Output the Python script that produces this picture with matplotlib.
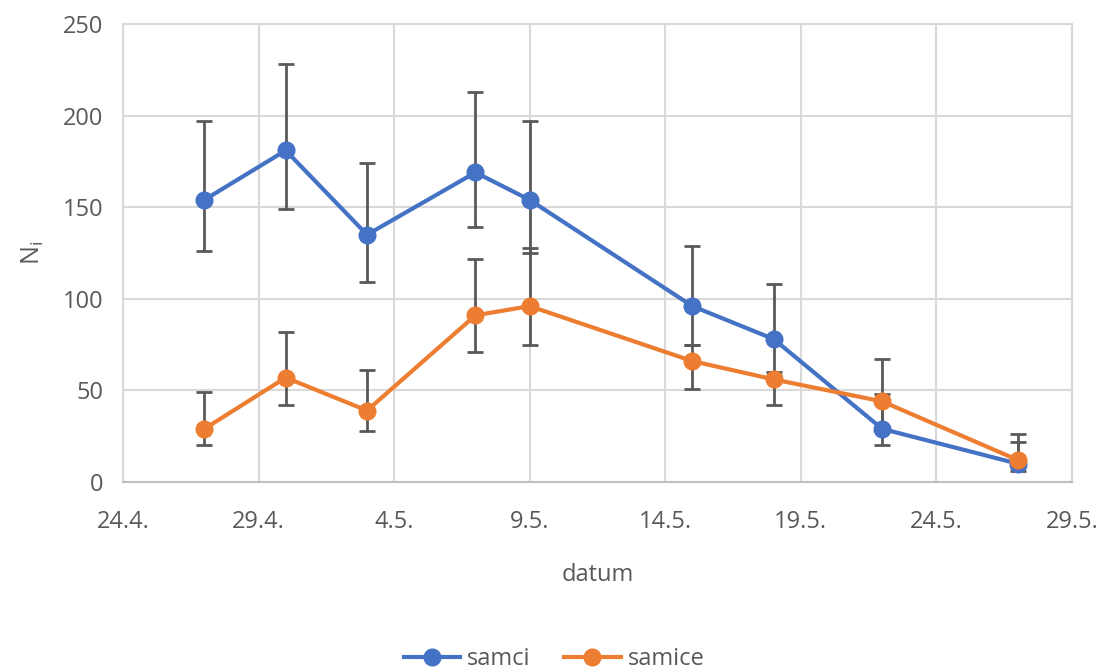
import matplotlib
matplotlib.use('Agg')
import matplotlib.pyplot as plt
import matplotlib.dates as mdates
import numpy as np

# data
dates = ['2019-04-27', '2019-04-30', '2019-05-03', '2019-05-07', '2019-05-09',
         '2019-05-15', '2019-05-18', '2019-05-22', '2019-05-27']
samci = [154, 181, 135, 169, 154, 96, 78, 29, 10]
samci_hi = [197, 228, 174, 213, 197, 129, 108, 48, 22]
samci_lo = [126, 149, 109, 139, 125, 75, 58, 20, 6]
samice = [29, 57, 39, 91, 96, 66, 56, 44, 12]
samice_hi = [49, 82, 61, 122, 128, 75, 60, 67, 26]
samice_lo = [20, 42, 28, 71, 75, 51, 42, 30, 8]

x = mdates.date2num(np.array(dates, dtype='datetime64[D]'))

blue = '#4472C4'
orange = '#ED7D31'
grey = '#595959'

plt.rcParams['font.family'] = ['Open Sans', 'DejaVu Sans']
fig = plt.figure(figsize=(11.08, 6.70), dpi=100)
ax = fig.add_axes([0.111, 0.2806, 0.8565, 0.6835])

for y, hi, lo in [(samci, samci_hi, samci_lo), (samice, samice_hi, samice_lo)]:
  y = np.array(y)
  err = [y - np.array(lo), np.array(hi) - y]
  ax.errorbar(x, y, yerr=err, fmt='none', ecolor=grey, elinewidth=2,
              capsize=6, capthick=2, zorder=2)
for y, c, lab in [(samci, blue, 'samci'), (samice, orange, 'samice')]:
  ax.plot(x, y, color=c, lw=3, marker='o', ms=12, label=lab, zorder=3)

x0 = mdates.date2num(np.datetime64('2019-04-24'))
ticks = [x0 + 5 * i for i in range(8)]
ax.set_xlim(ticks[0], ticks[-1])
ax.set_xticks(ticks)
ax.xaxis.set_major_formatter(mdates.DateFormatter('%-d.%-m.'))
ax.set_ylim(0, 250)
ax.set_yticks(range(0, 251, 50))

ax.grid(True, color='#d9d9d9', lw=1.5, zorder=0)
ax.set_axisbelow(True)
for s in ['top', 'right', 'left']:
  ax.spines[s].set_color('#d9d9d9')
  ax.spines[s].set_linewidth(1.5)
ax.spines['bottom'].set_color('#bfbfbf')
ax.spines['bottom'].set_linewidth(1.5)
ax.tick_params(length=0, labelsize=17, labelcolor=grey)
ax.tick_params(axis='x', pad=20)
ax.tick_params(axis='y', pad=14)

ax.set_xlabel('datum', fontsize=17, color=grey, labelpad=21)
ax.set_ylabel('N$_\\mathregular{i}$', fontsize=18, color=grey, labelpad=12)

fig.legend(loc='lower center', ncol=2, frameon=False, fontsize=17,
           bbox_to_anchor=(0.5, -0.033), handlelength=2.4, handletextpad=0.3,
           columnspacing=1.4, labelcolor=grey)

fig.savefig('out.png', dpi=100)
